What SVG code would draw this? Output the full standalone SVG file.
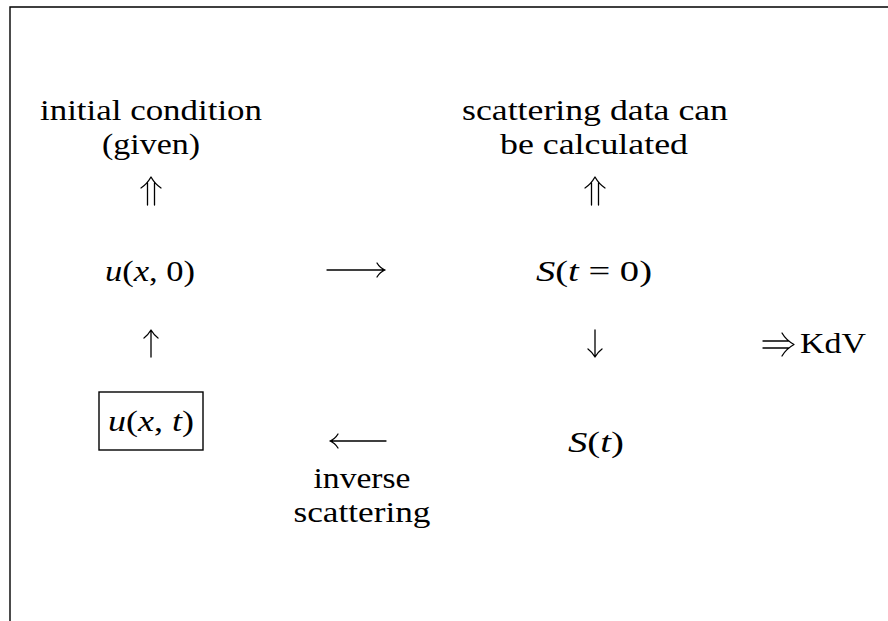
<svg xmlns="http://www.w3.org/2000/svg" width="888" height="621" viewBox="0 0 888 621">
<style>
text{font-family:"Liberation Serif","Times New Roman",serif;font-size:30px;fill:#000;text-anchor:middle}
.i{font-style:italic}
.frame{fill:none;stroke:#000;stroke-width:1.4}
.ar{fill:none;stroke:#000;stroke-width:1.3;stroke-linecap:round;stroke-linejoin:round}
</style>
<rect width="888" height="621" fill="#fff"/>
<path class="frame" d="M10 621 V7 H888"/>
<g id="init">
<text x="151" y="120" textLength="222" lengthAdjust="spacingAndGlyphs">initial condition</text>
<text x="151" y="154" textLength="98" lengthAdjust="spacingAndGlyphs">(given)</text>
</g>
<g id="scat">
<text x="595" y="120" textLength="266" lengthAdjust="spacingAndGlyphs">scattering data can</text>
<text x="594" y="154" textLength="188" lengthAdjust="spacingAndGlyphs">be calculated</text>
</g>
<g id="u0">
<text x="150" y="281" textLength="90" lengthAdjust="spacingAndGlyphs"><tspan class="i">u</tspan>(<tspan class="i">x</tspan>, 0)</text>
</g>
<g id="s0">
<text x="594" y="281" textLength="116" lengthAdjust="spacingAndGlyphs"><tspan class="i">S</tspan>(<tspan class="i">t</tspan> = 0)</text>
</g>
<g id="uxt">
<rect x="99" y="392" width="104" height="58" fill="none" stroke="#000" stroke-width="1.4"/>
<text x="151" y="431" textLength="86" lengthAdjust="spacingAndGlyphs"><tspan class="i">u</tspan>(<tspan class="i">x</tspan>, <tspan class="i">t</tspan>)</text>
</g>
<g id="st">
<text x="596" y="452" textLength="56" lengthAdjust="spacingAndGlyphs"><tspan class="i">S</tspan>(<tspan class="i">t</tspan>)</text>
</g>
<g id="kdv">
<text x="833" y="353" textLength="66" lengthAdjust="spacingAndGlyphs">KdV</text>
</g>
<g id="inv">
<text x="362" y="488" textLength="97" lengthAdjust="spacingAndGlyphs">inverse</text>
<text x="362" y="522" textLength="137" lengthAdjust="spacingAndGlyphs">scattering</text>
</g>
<g id="connectors" class="ar">
<path d="M147.5 205 V183 M154.5 205 V183 M141 188 Q147 184 151 177 Q155 184 161 188"/>
<path d="M591.5 205 V183 M598.5 205 V183 M585 188 Q591 184 595 177 Q599 184 605 188"/>
<path d="M327 270 H385 M377 263 Q380 268 385 270 Q380 272 377 277"/>
<path d="M151 357 V331 M144 338 Q148 335 151 330 Q154 335 158 338"/>
<path d="M595 330 V356 M588 349 Q592 352 595 357 Q598 352 602 349"/>
<path d="M763 341 H789 M763 348 H789 M782 333 Q786 340 794 344.5 Q786 349 782 356"/>
<path d="M330 441 H386 M338 434 Q335 439 330 441 Q335 443 338 448"/>
</g>
</svg>
